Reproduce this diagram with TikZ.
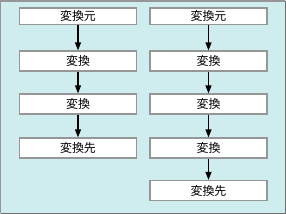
\documentclass[tikz,border=0pt]{standalone}
\usepackage{fontspec}
\newfontfamily\cjk{Noto Sans CJK JP}
\usetikzlibrary{arrows.meta}
\definecolor{bgc}{RGB}{207,236,238}
\definecolor{brd}{RGB}{150,150,150}
\definecolor{brddark}{RGB}{110,110,110}
\begin{document}
\begin{tikzpicture}[x=1bp,y=-1bp,
  stepbox/.style={draw=brd,line width=1.2bp,fill=white,inner sep=0pt,font=\cjk\fontsize{12}{12}\selectfont},
  flow/.style={-{Triangle[length=8bp,width=6bp]},line width=1.3bp,black}]
\useasboundingbox (0,0) rectangle (286,214);
\fill[bgc] (0,0) rectangle (286,214);
\draw[brd,line width=1.5bp] (0.75,213) -- (0.75,0.75) -- (285,0.75);
\draw[brddark,line width=1.5bp] (0.75,213.25) -- (285.25,213.25) -- (285.25,0.75);
% left column
\node[stepbox,minimum width=117bp,minimum height=16.5bp] (l1) at (78,16.2) {変換元};
\node[stepbox,minimum width=117bp,minimum height=20bp] (l2) at (78,61) {変換};
\node[stepbox,minimum width=117bp,minimum height=20bp] (l3) at (78,104) {変換};
\node[stepbox,minimum width=117bp,minimum height=20bp] (l4) at (78,148) {変換先};
% right column
\node[stepbox,minimum width=117bp,minimum height=16.5bp] (r1) at (208.5,16.2) {変換元};
\node[stepbox,minimum width=117bp,minimum height=20bp] (r2) at (208.5,61) {変換};
\node[stepbox,minimum width=117bp,minimum height=20bp] (r3) at (208.5,104) {変換};
\node[stepbox,minimum width=117bp,minimum height=20bp] (r4) at (208.5,148) {変換};
\node[stepbox,minimum width=117bp,minimum height=20bp] (r5) at (208.5,190.5) {変換先};
\draw[flow] (l1) -- (l2);
\draw[flow] (l2) -- (l3);
\draw[flow] (l3) -- (l4);
\draw[flow] (r1) -- (r2);
\draw[flow] (r2) -- (r3);
\draw[flow] (r3) -- (r4);
\draw[flow] (r4) -- (r5);
\end{tikzpicture}
\end{document}
